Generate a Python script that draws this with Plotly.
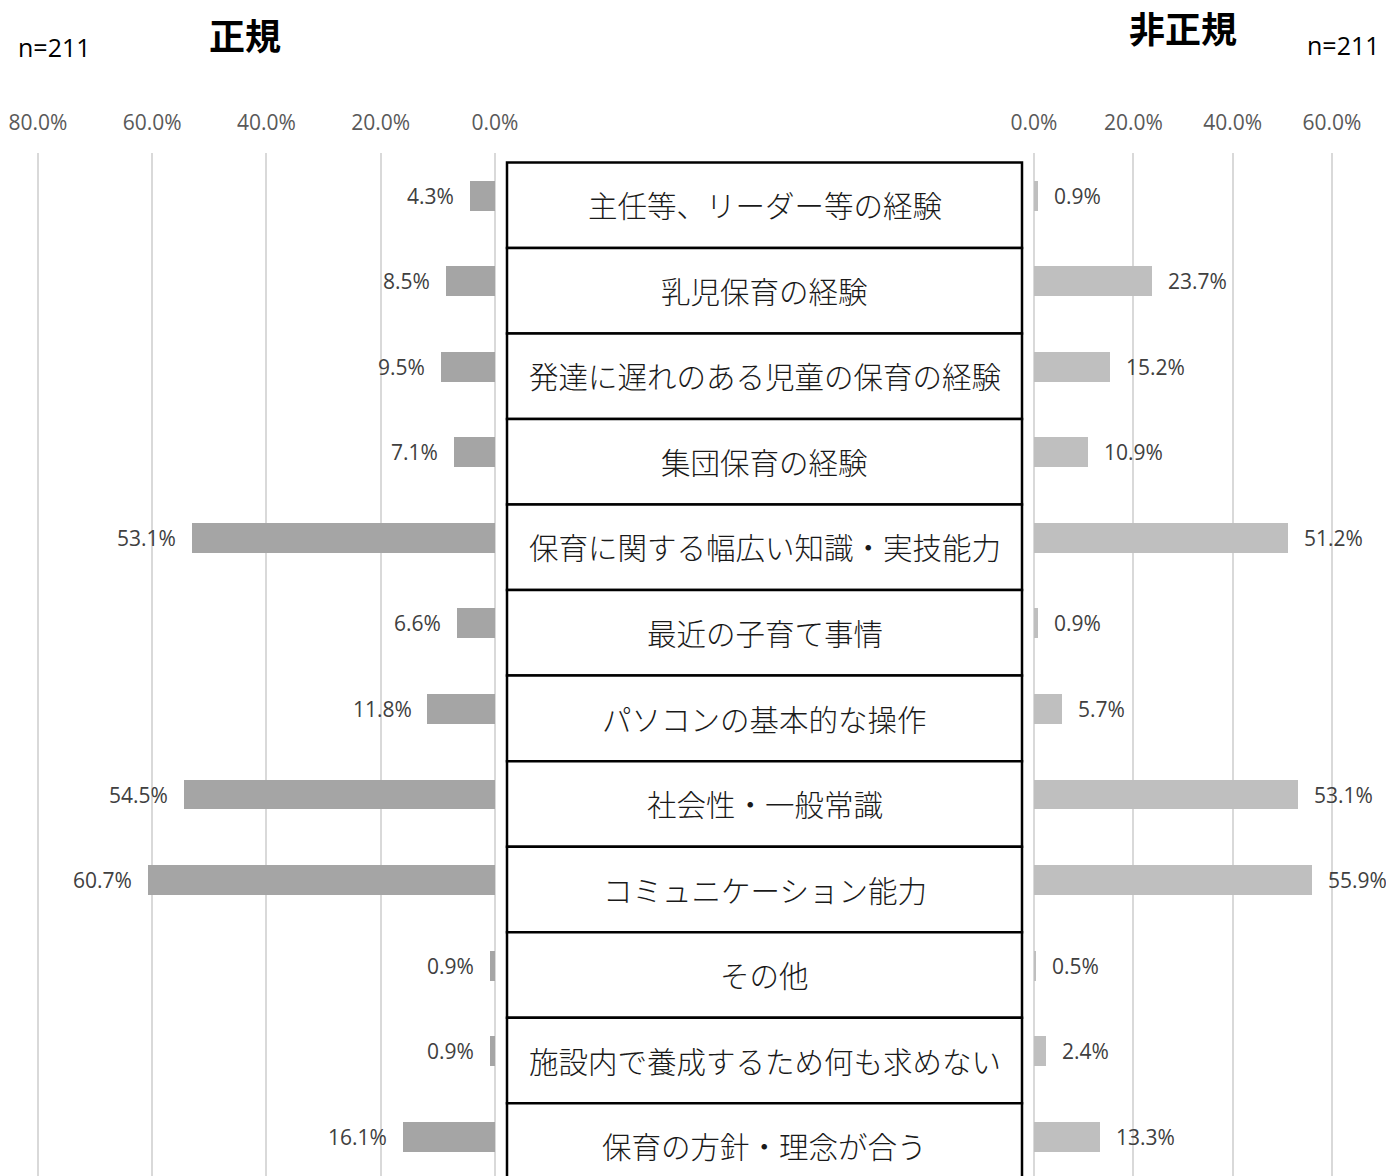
import plotly.graph_objects as go

# items shown in the centre column, top to bottom
items = ["主任等、リーダー等の経験", "乳児保育の経験", "発達に遅れのある児童の保育の経験",
         "集団保育の経験", "保育に関する幅広い知識・実技能力", "最近の子育て事情",
         "パソコンの基本的な操作", "社会性・一般常識", "コミュニケーション能力",
         "その他", "施設内で養成するため何も求めない", "保育の方針・理念が合う"]
seiki = [4.3, 8.5, 9.5, 7.1, 53.1, 6.6, 11.8, 54.5, 60.7, 0.9, 0.9, 16.1]
hiseiki = [0.9, 23.7, 15.2, 10.9, 51.2, 0.9, 5.7, 53.1, 55.9, 0.5, 2.4, 13.3]
left_ticks = [0, 20, 40, 60, 80]
right_ticks = [0, 20, 40, 60]

W, H = 1386, 1176
TOP = 153
pos = list(range(len(items)))

num_font = dict(family="Open Sans, Noto Sans CJK JP", size=21, color="#404040")

fig = go.Figure()
fig.add_trace(go.Bar(x=seiki, y=pos, orientation="h", width=0.35,
                     marker_color="#A5A5A5", xaxis="x", yaxis="y", showlegend=False))
fig.add_trace(go.Bar(x=hiseiki, y=pos, orientation="h", width=0.35,
                     marker_color="#BFBFBF", xaxis="x2", yaxis="y", showlegend=False))

annotations = []
shapes = []
bx0, bx1 = 507 / W, 1022 / W
for i, name in enumerate(items):
    annotations.append(dict(x=seiki[i], y=i, xref="x", yref="y", text=f"{seiki[i]:.1f}%",
                            showarrow=False, xanchor="right", xshift=-14, font=num_font))
    annotations.append(dict(x=hiseiki[i], y=i, xref="x2", yref="y", text=f"{hiseiki[i]:.1f}%",
                            showarrow=False, xanchor="left", xshift=14, font=num_font))
    annotations.append(dict(x=(bx0 + bx1) / 2, y=i + 0.1, xref="paper", yref="y", text=name,
                            showarrow=False, xanchor="center", yanchor="middle",
                            font=dict(family="Noto Sans CJK JP", size=29.5, color="#1a1a1a",
                                      weight=300)))
    shapes.append(dict(type="rect", xref="paper", yref="y", x0=bx0, x1=bx1,
                       y0=i - 0.39, y1=i + 0.61, line=dict(color="black", width=2.5),
                       fillcolor="white", layer="below"))


def py(p):
    # pixel row from the top of the page -> paper y
    return 1 + (TOP - p) / (H - TOP)


title_font = dict(family="Noto Sans CJK JP", size=36, color="black")
n_font = dict(family="Open Sans, Noto Sans CJK JP", size=25, color="black")
for x, y, t, f in [(245, 34, "<b>正規</b>", title_font), (1183, 27, "<b>非正規</b>", title_font),
                   (54, 47, "n=211", n_font), (1343, 45, "n=211", n_font)]:
    annotations.append(dict(x=x / W, y=py(y), xref="paper", yref="paper", text=t,
                            xanchor="center", yanchor="middle", showarrow=False, font=f))

axis_common = dict(side="top", showgrid=True, gridcolor="#D9D9D9", gridwidth=1.5,
                   zeroline=True, zerolinecolor="#D9D9D9", zerolinewidth=1.5,
                   showline=False, ticks="", ticklabelstandoff=18,
                   automargin=False, tickmode="array",
                   tickfont=dict(family="Open Sans, Noto Sans CJK JP", size=21, color="#595959"),
                   fixedrange=True)

fig.update_layout(
    template="none",
    width=W, height=H,
    autosize=False,
    margin=dict(l=0, r=0, t=TOP, b=0, pad=0),
    paper_bgcolor="white", plot_bgcolor="white",
    bargap=0,
    xaxis=dict(domain=[35.1 / W, 495 / W], range=[80.5, 0], tickvals=left_ticks,
               ticktext=[f"{v:.1f}%" for v in left_ticks], anchor="y", **axis_common),
    xaxis2=dict(domain=[1034 / W, 1334.5 / W], range=[0, 60.5], tickvals=right_ticks,
                ticktext=[f"{v:.1f}%" for v in right_ticks], anchor="y", **axis_common),
    yaxis=dict(range=[11.46, -0.5], showticklabels=False, showgrid=False,
               zeroline=False, fixedrange=True, automargin=False),
    annotations=annotations,
    shapes=shapes,
)

# the page body has an 8px default margin; drop it so the figure sits at (0, 0)
fig.write_html("out.html", config={"displayModeBar": False},
               post_script="document.body.style.margin='0';")
